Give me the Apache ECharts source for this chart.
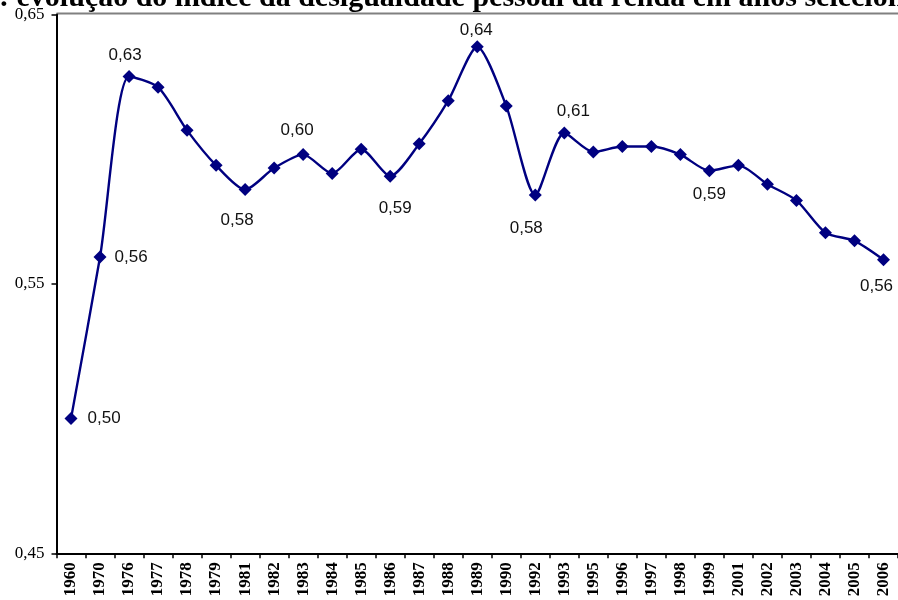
<!DOCTYPE html>
<html><head><meta charset="utf-8">
<script src="https://cdn.jsdelivr.net/npm/echarts@6/dist/echarts.min.js"></script>
<style>html,body{margin:0;padding:0;background:#fff}#c{width:898px;height:600px}</style>
</head><body><div id="c"></div>
<script>
var years = ['1960','1970','1976','1977','1978','1979','1981','1982','1983','1984','1985','1986','1987','1988','1989','1990','1992','1993','1995','1996','1997','1998','1999','2001','2002','2003','2004','2005','2006'];
var gini = [0.500,0.560,0.627,0.623,0.607,0.594,0.585,0.593,0.598,0.591,0.600,0.590,0.602,0.618,0.638,0.616,0.583,0.606,0.599,0.601,0.601,0.598,0.592,0.594,0.587,0.581,0.569,0.566,0.559];
var yTicks = [0.45, 0.55, 0.65];
var titleText = ': evolução do índice da desigualdade pessoal da renda em anos selecionados';

var labelCfg = {
  '1960': {position:'right', distance:10},
  '1970': {position:'right', distance:8},
  '1976': {position:'top', distance:6, offset:[-4,0]},
  '1981': {position:'bottom', distance:16, offset:[-8,0]},
  '1983': {position:'top', distance:9, offset:[-6,0]},
  '1986': {position:'bottom', distance:17, offset:[5,0]},
  '1989': {position:'top', distance:2, offset:[-1,0]},
  '1992': {position:'bottom', distance:18, offset:[-9,0]},
  '1993': {position:'top', distance:7, offset:[9,0]},
  '1999': {position:'bottom', distance:9},
  '2006': {position:'bottom', distance:12, offset:[-7,0]}
};
var data = years.map(function(y,i){
  var item = {value: gini[i]};
  if (labelCfg[y]) {
    item.label = Object.assign({show:true}, labelCfg[y]);
  }
  return item;
});

var chart = echarts.init(document.getElementById('c'), null, {renderer:'canvas'});
chart.setOption({
  animation:false,
  backgroundColor:'#fff',
  graphic:[
    {type:'text', left:-1, top:-17, z:1, style:{text:titleText, font:'bold 30px "Liberation Serif", "Times New Roman", serif', fill:'#000'}},
    {type:'rect', shape:{x:0,y:13,width:900,height:20}, z:2, style:{fill:'#fff'}},
    {type:'line', shape:{x1:56.5,y1:13.5,x2:900,y2:13.5}, z:3, style:{stroke:'#808080', lineWidth:2}}
  ],
  grid:{left:56.5, top:14.5, width:844, bottom:46.7, containLabel:false},
  xAxis:{
    type:'category', data:years, boundaryGap:true, z:5,
    axisLine:{lineStyle:{color:'#000', width:2}},
    axisTick:{show:true, length:5, lineStyle:{color:'#000', width:1.5}},
    axisLabel:{rotate:90, interval:0, margin:9, color:'#000', fontFamily:'"Liberation Serif","Times New Roman",serif', fontWeight:'bold', fontSize:17}
  },
  yAxis:{
    type:'value', min:0.45, max:0.65, interval:0.1, z:5,
    splitLine:{show:false},
    axisLine:{show:true, lineStyle:{color:'#000', width:2}},
    axisTick:{show:true, length:5, lineStyle:{color:'#000', width:1.5}},
    axisLabel:{margin:12, color:'#000', fontFamily:'"Liberation Serif","Times New Roman",serif', fontSize:17,
      formatter:function(v){ return yTicks.indexOf(Math.round(v*100)/100) >= 0 ? v.toFixed(2).replace('.',',') : ''; }}
  },
  series:[{
    type:'line', data:data, smooth:0.25, z:6,
    symbol:'diamond', symbolSize:13,
    lineStyle:{color:'#000080', width:2.4},
    itemStyle:{color:'#000080'},
    label:{show:false, color:'#111', fontFamily:'"Liberation Sans",Arial,sans-serif', fontSize:17,
      formatter:function(p){ return p.value.toFixed(2).replace('.',','); }}
  }]
});
</script></body></html>
